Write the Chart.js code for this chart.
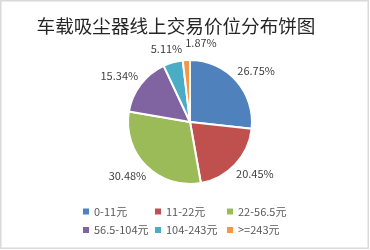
<!DOCTYPE html>
<html lang="zh-CN">
<head>
  <meta charset="UTF-8" />
  <title>车载吸尘器线上交易价位分布饼图</title>
  <script src="https://cdn.jsdelivr.net/npm/chart.js"></script>
  <style>
    html, body { margin: 0; padding: 0; background: #fff; }
    canvas { display: block; }
  </style>
</head>
<body>
  <canvas id="myChart" width="370" height="250"></canvas>

  <script>
    const titleText = '车载吸尘器线上交易价位分布饼图';
    const categories = ['0-11元', '11-22元', '22-56.5元', '56.5-104元', '104-243元', '>=243元'];
    const shares = [26.75, 20.45, 30.48, 15.34, 5.11, 1.87];
    const colors = ['#4F81BD', '#C0504D', '#9BBB59', '#8064A2', '#4BACC6', '#F79646'];

    const FONT = '"Noto Sans CJK SC", "Noto Sans", sans-serif';

    // 边框 + 标题 + 外侧百分比标签 + 图例
    const decorPlugin = {
      id: 'decor',
      beforeDraw(chart) {
        const c = chart.ctx;
        c.save();
        c.fillStyle = '#fff';
        c.fillRect(0, 0, chart.width, chart.height);
        c.strokeStyle = '#d9d9d9';
        c.lineWidth = 1.5;
        c.strokeRect(0.75, 0.75, 367.5, 247.5);
        c.restore();
      },
      afterDraw(chart) {
        const c = chart.ctx;
        c.save();

        // 标题：按参考图宽度自适应字号
        c.textAlign = 'center';
        c.textBaseline = 'middle';
        let size = 21;
        c.font = size + 'px ' + FONT;
        const tw = c.measureText(titleText).width;
        size = size * 279 / tw;
        c.font = size.toFixed(1) + 'px ' + FONT;
        c.fillStyle = '#262626';
        c.fillText(titleText, 176, 26);

        // 百分比标签（外侧）
        c.font = '11px ' + FONT;
        c.fillStyle = '#404040';
        const boxes = [];
        chart.getDatasetMeta(0).data.forEach((arc, i) => {
          const mid = (arc.startAngle + arc.endAngle) / 2;
          const dx = Math.cos(mid), dy = Math.sin(mid);
          const text = shares[i].toFixed(2) + '%';
          const w = c.measureText(text).width, h = 12;
          const r = arc.outerRadius + 8;
          let cx = arc.x + dx * r + dx * w / 2;
          let cy = arc.y + dy * r + dy * h / 2;
          let box = { l: cx - w / 2, r: cx + w / 2, t: cy - h / 2, b: cy + h / 2 };
          boxes.forEach(p => {
            if (box.l < p.r && box.r > p.l && box.t < p.b && box.b > p.t) {
              const shift = p.r + 3 - box.l;
              cx += shift; cy -= 3;
              box = { l: cx - w / 2, r: cx + w / 2, t: cy - h / 2, b: cy + h / 2 };
            }
          });
          boxes.push(box);
          c.fillText(text, cx, cy);
        });

        // 图例（3列2行）
        c.font = '11px ' + FONT;
        c.textAlign = 'left';
        categories.forEach((name, i) => {
          const col = i % 3, row = Math.floor(i / 3);
          const x = 83 + col * 72, y = 211.5 + row * 18.5;
          c.fillStyle = colors[i];
          c.fillRect(x, y - 3, 6, 6);
          c.fillStyle = '#595959';
          c.fillText(name, x + 11, y);
        });

        c.restore();
      }
    };

    const ctx = document.getElementById('myChart').getContext('2d');
    const chart = new Chart(ctx, {
      type: 'pie',
      data: {
        labels: categories,
        datasets: [{
          data: shares,
          backgroundColor: colors,
          borderColor: '#fff',
          borderWidth: 2
        }]
      },
      options: {
        responsive: false,
        animation: false,
        layout: { padding: { top: 59, bottom: 65, left: 60, right: 50 } },
        plugins: {
          legend: { display: false },
          tooltip: { enabled: false },
          title: { display: false }
        }
      },
      plugins: [decorPlugin]
    });
  </script>
</body>
</html>
